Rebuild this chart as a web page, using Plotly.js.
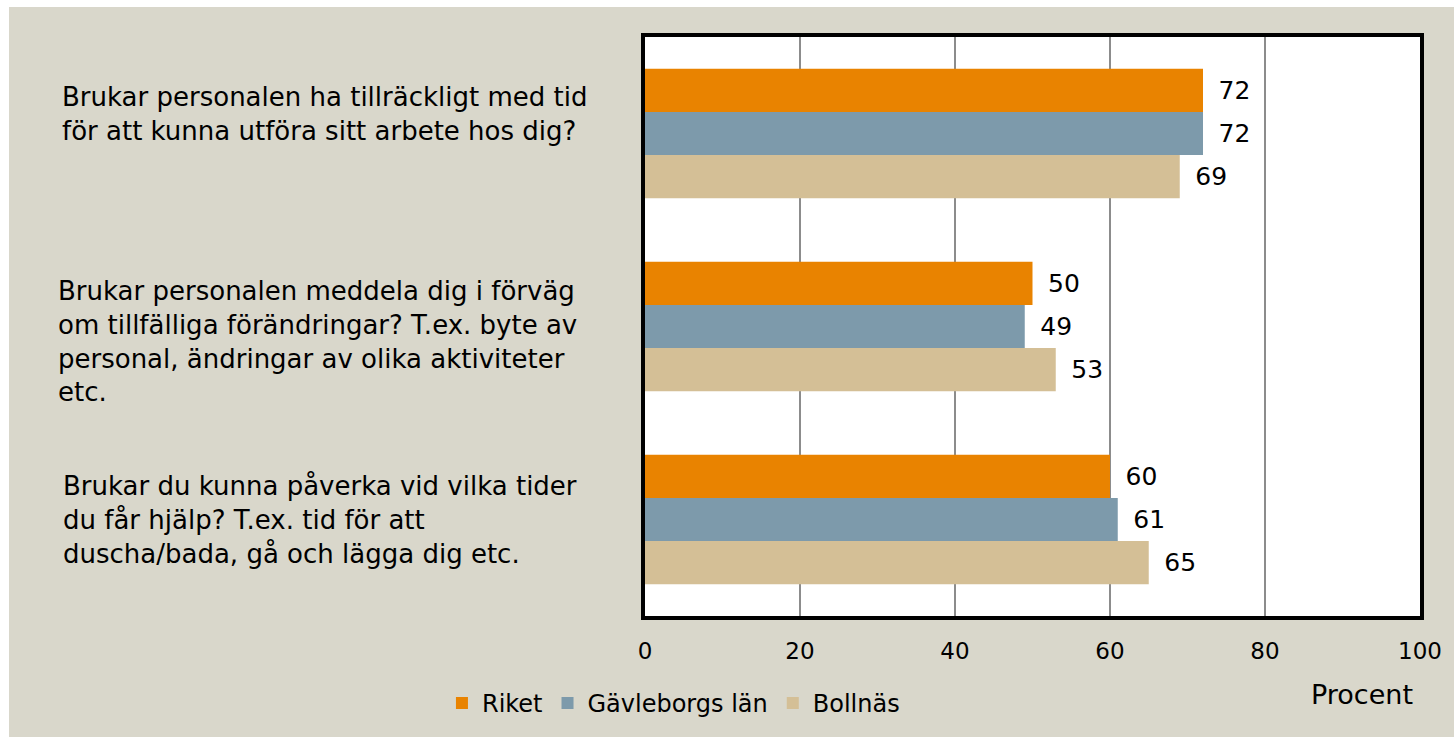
<!DOCTYPE html>
<html>
<head>
<meta charset="utf-8">
<script src="https://cdn.plot.ly/plotly-3.0.1.min.js"></script>
<style>
  html, body { margin: 0; padding: 0; background: #ffffff; }
  #chart { position: absolute; left: 9px; top: 7px; width: 1445px; height: 730px; }
</style>
</head>
<body>
<div id="chart"></div>
<script>
const categories = [
  "Brukar personalen ha tillräckligt med tid<br>för att kunna utföra sitt arbete hos dig?",
  "Brukar personalen meddela dig i förväg<br>om tillfälliga förändringar? T.ex. byte av<br>personal, ändringar av olika aktiviteter<br>etc.",
  "Brukar du kunna påverka vid vilka tider<br>du får hjälp? T.ex. tid för att<br>duscha/bada, gå och lägga dig etc."
];
const seriesNames = ["Riket", "Gävleborgs län", "Bollnäs"];
const riket = [72, 50, 60];
const gavleborg = [72, 49, 61];
const bollnas = [69, 53, 65];
const xTicks = [0, 20, 40, 60, 80, 100];
const axisTitle = "Procent";

const colors = ["#e98300", "#7d9aab", "#d4bf96"];
const font = "'DejaVu Sans', sans-serif";
const allValues = [riket, gavleborg, bollnas];

const traces = allValues.map((vals, i) => ({
  type: "bar",
  orientation: "h",
  name: seriesNames[i],
  x: vals,
  y: categories,
  marker: { color: colors[i] },
  texttemplate: "\u2002%{x}",
  textposition: "outside",
  cliponaxis: false,
  textfont: { family: font, size: 25, color: "#000" },
  hoverinfo: "x+name"
}));

const labelShift = [20, -15, 0];
const labelXShift = [2, -2, 3];
const annotations = categories.map((c, i) => ({
  xref: "paper", yref: "y",
  x: -0.757, y: c,
  xanchor: "left", yanchor: "middle",
  align: "left",
  text: c,
  showarrow: false,
  yshift: labelShift[i],
  xshift: labelXShift[i],
  font: { family: font, size: 26, color: "#000" }
}));
annotations.push({
  xref: "paper", yref: "paper",
  x: 0.925, y: -0.136,
  xanchor: "center", yanchor: "middle",
  text: axisTitle, showarrow: false,
  font: { family: font, size: 27, color: "#000" }
});

const layout = {
  width: 1445, height: 730,
  paper_bgcolor: "#d9d7cb",
  plot_bgcolor: "#ffffff",
  margin: { l: 636, r: 34, t: 30, b: 121, autoexpand: false },
  barmode: "group",
  bargap: 0.33,
  bargroupgap: 0,
  showlegend: true,
  legend: {
    orientation: "h",
    x: -0.262, y: -0.112,
    xanchor: "left", yanchor: "top",
    font: { family: font, size: 24, color: "#000" },
    itemwidth: 30,
    traceorder: "normal",
    bgcolor: "rgba(0,0,0,0)"
  },
  xaxis: {
    range: [0, 100],
    tickvals: xTicks,
    ticktext: xTicks.map(String),
    showgrid: true,
    gridcolor: "#8c8c8c",
    gridwidth: 2,
    zeroline: false,
    showline: true,
    linecolor: "#000",
    linewidth: 4,
    mirror: true,
    ticks: "",
    ticklabelstandoff: 11,
    tickfont: { family: font, size: 23, color: "#000" },
    fixedrange: true
  },
  yaxis: {
    autorange: "reversed",
    showticklabels: false,
    showgrid: false,
    zeroline: false,
    showline: true,
    linecolor: "#000",
    linewidth: 4,
    mirror: true,
    ticks: "",
    fixedrange: true
  },
  annotations: annotations
};

Plotly.newPlot("chart", traces, layout, { displayModeBar: false, staticPlot: true });
</script>
</body>
</html>
